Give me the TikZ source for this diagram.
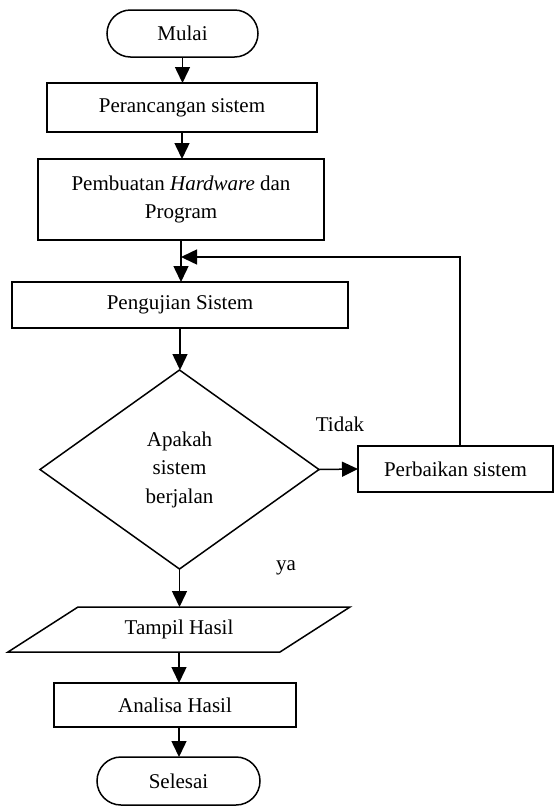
\documentclass[tikz,border=0pt]{standalone}
\usepackage{fontspec}
\setmainfont{Liberation Serif}
\usetikzlibrary{arrows.meta,shapes.geometric,calc}

\begin{document}
\begin{tikzpicture}[x=1pt,y=-1pt,
  font=\fontsize{21}{28.5}\selectfont,
  line width=1.5pt,
  every node/.style={inner sep=0pt, outer sep=0pt},
  boxnode/.style={draw, rectangle, align=center},
  terminal/.style={draw, rectangle, rounded corners=23.5pt},
  decision/.style={draw, diamond, align=center},
  flow/.style={-{Triangle[width=15pt,length=16pt]}},
]
\useasboundingbox (0,0) rectangle (556,807);

% process steps
\node[terminal, minimum width=151pt, minimum height=47pt] (mulai) at (182.5,33.5) {Mulai};
\node[boxnode, minimum width=270pt, minimum height=49pt] (rancang) at (182,107.5) {Perancangan sistem};
\node[boxnode, minimum width=286pt, minimum height=81pt] (buat) at (181,199.5) {Pembuatan \textit{Hardware} dan\\Program};
\node[boxnode, minimum width=336pt, minimum height=46pt] (uji) at (180,305) {Pengujian Sistem};
\node[decision, minimum width=279pt, minimum height=199pt] (cek) at (179.5,469.5) {Apakah\\sistem\\berjalan};
\node[boxnode, minimum width=195pt, minimum height=46pt] (perbaiki) at (455.5,469) {Perbaikan sistem};

% output step: parallelogram drawn around the node
\node[minimum width=272pt, minimum height=45pt] (tampil) at (179,629.5) {Tampil Hasil};
\draw ($(tampil.south west)+(-35,0)$) -- ($(tampil.north west)+(35,0)$)
   -- ($(tampil.north east)+(35,0)$) -- ($(tampil.south east)+(-35,0)$) -- cycle;

\node[boxnode, minimum width=242pt, minimum height=44pt] (analisa) at (175,705) {Analisa Hasil};
\node[terminal, rounded corners=24pt, minimum width=163pt, minimum height=48pt] (selesai) at (178.5,781) {Selesai};

% branch labels
\node (tidak) at (340,424) {Tidak};
\node (ya) at (286,568) {ya};

% connectors
\coordinate (balik) at (181,257);
\draw[flow] (mulai.south) -- (mulai.south |- rancang.north);
\draw[flow] (rancang.south) -- (rancang.south |- buat.north);
\draw[flow] (buat.south) -- (buat.south |- uji.north);
\draw[flow] (uji.south) -- (uji.south |- cek.north);
\draw[flow] (cek.east) -- (perbaiki.west);
\draw[flow] ([xshift=4.5pt]perbaiki.north) |- (balik);
\draw[flow] (cek.south) -- (cek.south |- tampil.north);
\draw[flow] (tampil.south) -- (tampil.south |- analisa.north);
\draw[flow] (tampil.south |- analisa.south) -- (tampil.south |- selesai.north);
\end{tikzpicture}
\end{document}
